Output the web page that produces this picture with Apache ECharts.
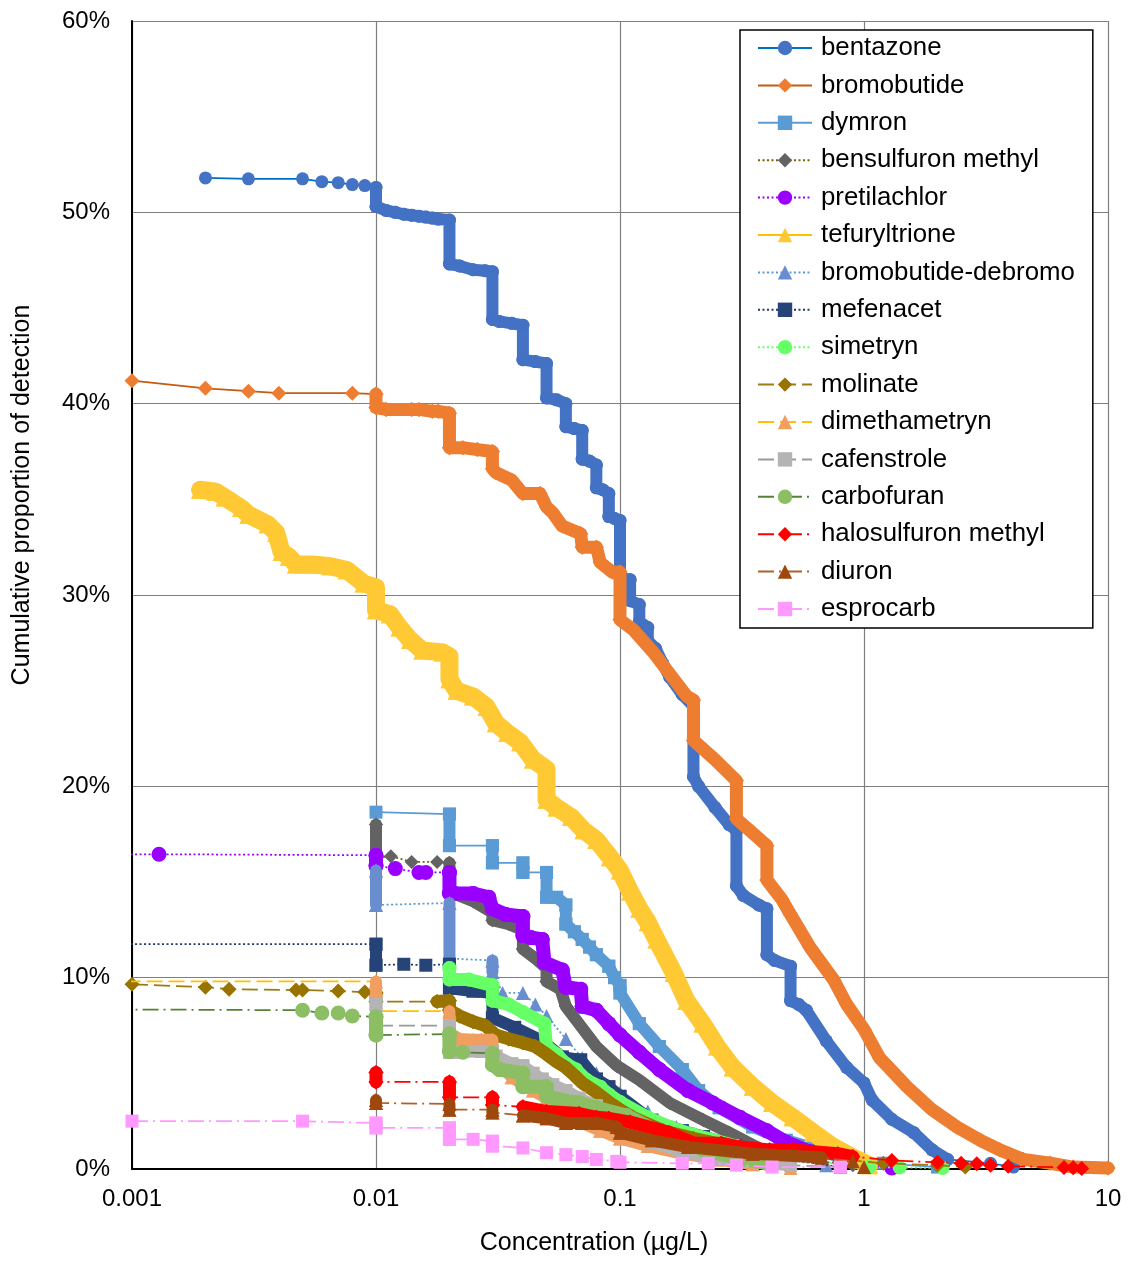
<!DOCTYPE html>
<html><head><meta charset="utf-8">
<script src="https://cdn.jsdelivr.net/npm/echarts@6/dist/echarts.min.js"></script>
<style>html,body{margin:0;padding:0;background:#fff;}#c{width:1130px;height:1261px;}</style>
</head><body><div id="c"></div>
<script>
// ---------------- DATA (concentration µg/L, cumulative proportion %) ----------------
const seriesNames = ['bentazone','bromobutide','dymron','bensulfuron methyl','pretilachlor','tefuryltrione','bromobutide-debromo','mefenacet','simetryn','molinate','dimethametryn','cafenstrole','carbofuran','halosulfuron methyl','diuron','esprocarb'];
const xTickLabels = ['0.001','0.01','0.1','1','10'];
const yTickLabels = ['0%','10%','20%','30%','40%','50%','60%'];

const bentazone = [[0.002,51.8],[0.003,51.75],[0.005,51.75],[0.006,51.6],[0.007,51.55],[0.008,51.45],[0.009,51.4],
 [0.01,51.3],[0.01,50.3],[0.011,50.1],[0.012,50.0],[0.013,49.9],[0.014,49.85],[0.015,49.8],[0.016,49.75],[0.017,49.7],[0.018,49.65],[0.02,49.6],[0.02,47.3],[0.022,47.2],[0.025,47.0],[0.028,46.95],[0.03,46.9],[0.03,44.4],[0.032,44.3],[0.036,44.2],[0.04,44.1],[0.04,42.3],[0.045,42.2],[0.05,42.1],[0.05,40.3],[0.055,40.2],[0.06,40.0],[0.06,38.8],[0.065,38.7],[0.07,38.6],[0.07,37.1],[0.075,37.0],[0.08,36.8],[0.08,35.6],[0.085,35.5],[0.09,35.3],[0.09,34.1],[0.095,34.0],[0.1,33.9],[0.1,30.9],[0.11,30.8],[0.11,29.7],[0.12,29.5],[0.12,28.6],[0.13,28.3],[0.13,27.6],[0.14,27.2],[0.15,26.4],[0.16,25.7],[0.18,24.8],[0.2,24.2],[0.2,20.5],[0.21,20.0],[0.245,18.9],[0.28,18.0],[0.3,17.7],[0.3,14.8],[0.32,14.3],[0.37,13.8],[0.4,13.6],[0.4,11.2],[0.43,10.9],[0.5,10.6],[0.5,8.8],[0.54,8.6],[0.58,8.3],[0.7,6.7],[0.85,5.3],[1.0,4.5],[1.08,3.6],[1.3,2.6],[1.6,1.9],[1.9,1.0],[2.2,0.5],[3.3,0.3],[4.1,0.1]];
const bromobutide = [[0.001,41.2],[0.002,40.8],[0.003,40.65],[0.004,40.55],[0.008,40.55],[0.01,40.5],[0.01,39.8],[0.011,39.7],[0.014,39.7],[0.015,39.7],[0.017,39.6],[0.018,39.6],[0.02,39.5],[0.02,37.7],[0.0227,37.7],[0.026,37.6],[0.03,37.5],[0.03,36.6],[0.031,36.4],[0.036,36.0],[0.04,35.3],[0.047,35.3],[0.05,34.6],[0.053,34.3],[0.058,33.6],[0.069,33.2],[0.07,32.5],[0.08,32.5],[0.083,31.7],[0.093,31.2],[0.1,31.2],[0.1,28.7],[0.113,28.2],[0.137,27.0],[0.155,26.1],[0.188,24.7],[0.2,24.5],[0.2,22.4],[0.245,21.4],[0.3,20.3],[0.3,18.3],[0.34,17.7],[0.4,16.9],[0.4,15.1],[0.46,14.1],[0.5,13.3],[0.6,11.6],[0.75,9.9],[0.85,8.6],[1.0,7.3],[1.16,5.8],[1.5,4.3],[1.9,3.1],[2.4,2.2],[3.0,1.5],[3.6,1.0],[4.5,0.5],[5.8,0.3],[7.2,0.1],[10,0.05]];
const dymron = [[0.01,18.65],[0.02,18.55],[0.02,16.9],[0.03,16.9],[0.03,16.0],[0.04,16.0],[0.04,15.5],[0.05,15.5],[0.05,14.2],[0.055,14.2],[0.06,13.8],[0.06,12.8],[0.065,12.4],[0.07,12.0],[0.075,11.6],[0.08,11.2],[0.09,10.6],[0.095,10.0],[0.1,9.6],[0.1,9.2],[0.12,7.6],[0.145,6.4],[0.18,5.2],[0.21,4.1],[0.255,3.2],[0.35,2.2],[0.48,1.5],[0.62,1.1],[0.8,0.6],[1.2,0.3],[2.0,0.1]];
const bensulfuronMethyl = [[0.01,18.0],[0.01,16.25],[0.0115,16.35],[0.014,16.05],[0.0178,16.05],[0.02,16.0],[0.02,14.5],[0.025,14.0],[0.03,13.4],[0.03,13.0],[0.035,12.8],[0.04,12.5],[0.04,11.5],[0.045,11.0],[0.05,10.5],[0.05,9.8],[0.057,9.4],[0.06,8.5],[0.066,7.8],[0.08,6.4],[0.097,5.4],[0.12,4.65],[0.16,3.45],[0.22,2.55],[0.28,1.9],[0.37,1.1],[0.5,0.6],[0.9,0.2]];
const pretilachlor = [[0.0005,16.45],[0.00129,16.45],[0.01,16.4],[0.01,15.85],[0.012,15.7],[0.015,15.5],[0.016,15.5],[0.02,15.5],[0.02,14.4],[0.021,14.4],[0.025,14.4],[0.029,14.2],[0.03,13.6],[0.034,13.3],[0.04,13.2],[0.04,12.2],[0.043,12.1],[0.048,12.0],[0.049,10.8],[0.058,10.4],[0.06,9.5],[0.069,9.4],[0.07,8.5],[0.08,8.3],[0.09,7.6],[0.1,7.0],[0.12,6.1],[0.145,5.2],[0.19,4.1],[0.24,3.45],[0.31,2.7],[0.4,2.0],[0.48,1.4],[0.6,0.9],[0.8,0.4],[1.3,0.05]];
const tefuryltrione = [[0.0019,35.5],[0.0022,35.4],[0.0024,35.1],[0.0028,34.55],[0.003,34.2],[0.0036,33.7],[0.0039,33.25],[0.0041,32.25],[0.0044,32.0],[0.0047,31.6],[0.0055,31.6],[0.0065,31.5],[0.0076,31.3],[0.0089,30.6],[0.01,30.4],[0.01,29.2],[0.0114,29.0],[0.0125,28.3],[0.0138,27.65],[0.0155,27.1],[0.0188,27.0],[0.02,26.8],[0.02,25.6],[0.0214,25.0],[0.025,24.7],[0.0284,24.15],[0.031,23.3],[0.0345,22.8],[0.039,22.3],[0.044,21.4],[0.05,20.9],[0.05,19.3],[0.055,18.9],[0.063,18.4],[0.071,17.7],[0.08,17.2],[0.091,16.3],[0.1,15.6],[0.11,14.5],[0.12,13.6],[0.13,12.9],[0.141,12.0],[0.166,10.25],[0.187,8.8],[0.218,7.6],[0.25,6.4],[0.29,5.3],[0.35,4.3],[0.42,3.45],[0.51,2.7],[0.62,1.9],[0.75,1.15],[0.9,0.6],[1.05,0.2]];
const bromobutideDebromo = [[0.01,15.6],[0.01,13.8],[0.02,13.9],[0.02,11.0],[0.03,10.9],[0.03,10.3],[0.033,9.2],[0.04,9.2],[0.045,8.6],[0.05,8.0],[0.06,6.8],[0.07,5.8],[0.08,5.0],[0.1,4.0],[0.13,3.0],[0.17,2.2],[0.25,1.3],[0.4,0.6],[0.7,0.2]];
const mefenacet = [[0.0005,11.75],[0.01,11.75],[0.01,10.65],[0.013,10.7],[0.016,10.65],[0.02,10.7],[0.02,9.45],[0.025,9.3],[0.03,9.2],[0.03,7.9],[0.037,7.4],[0.048,6.7],[0.058,5.85],[0.069,5.7],[0.08,4.7],[0.09,4.3],[0.1,3.8],[0.135,2.55],[0.18,2.0],[0.22,1.7],[0.3,1.2],[0.4,0.7],[0.8,0.1]];
const simetryn = [[0.02,10.5],[0.02,9.9],[0.024,9.9],[0.03,9.6],[0.03,8.8],[0.035,8.6],[0.04,8.2],[0.049,7.6],[0.05,6.4],[0.055,6.0],[0.06,5.5],[0.066,5.2],[0.073,4.65],[0.083,4.3],[0.09,3.9],[0.1,3.5],[0.13,2.7],[0.16,2.2],[0.2,1.8],[0.3,1.2],[0.5,0.6],[0.8,0.25],[1.05,0.1],[1.4,0.08],[2.1,0.05]];
const molinate = [[0.001,9.65],[0.002,9.5],[0.0025,9.4],[0.0047,9.35],[0.005,9.35],[0.007,9.3],[0.009,9.25],[0.01,9.2],[0.01,8.75],[0.0178,8.75],[0.02,8.8],[0.02,8.3],[0.022,8.0],[0.025,7.7],[0.028,7.5],[0.031,7.0],[0.035,6.8],[0.04,6.6],[0.045,6.4],[0.05,6.0],[0.055,5.6],[0.06,5.3],[0.065,4.9],[0.07,4.5],[0.08,4.0],[0.09,3.5],[0.1,3.1],[0.113,2.7],[0.15,2.0],[0.2,1.6],[0.3,1.1],[0.5,0.7],[0.8,0.5],[1.2,0.3],[2.0,0.2],[2.6,0.1]];
const dimethametryn = [[0.0005,9.8],[0.01,9.8],[0.01,8.25],[0.02,8.25],[0.02,7.1],[0.022,6.8],[0.025,6.75],[0.027,6.75],[0.03,6.75],[0.03,6.1],[0.033,5.3],[0.036,4.8],[0.044,4.1],[0.05,3.7],[0.06,2.9],[0.07,2.4],[0.083,2.0],[0.1,1.6],[0.13,1.2],[0.18,0.8],[0.25,0.5],[0.35,0.25],[0.5,0.05]];
const cafenstrole = [[0.01,8.6],[0.01,7.5],[0.02,7.5],[0.02,6.1],[0.021,6.1],[0.027,6.15],[0.03,6.1],[0.031,5.9],[0.036,5.5],[0.04,5.4],[0.044,5.0],[0.048,4.7],[0.053,4.4],[0.06,4.1],[0.068,3.7],[0.08,3.3],[0.097,2.7],[0.11,2.3],[0.135,1.4],[0.18,0.9],[0.26,0.5],[0.5,0.2],[0.8,0.1]];
const carbofuran = [[0.0005,8.35],[0.005,8.3],[0.006,8.15],[0.007,8.15],[0.008,8.0],[0.01,7.95],[0.01,7.0],[0.02,7.05],[0.02,6.15],[0.0227,6.1],[0.03,6.05],[0.03,5.45],[0.032,5.2],[0.04,5.0],[0.04,4.3],[0.05,4.3],[0.05,3.8],[0.057,3.6],[0.068,3.45],[0.08,3.2],[0.106,2.8],[0.15,1.8],[0.22,1.0],[0.3,0.6],[0.4,0.3]];
const halosulfuronMethyl = [[0.01,5.05],[0.01,4.55],[0.02,4.55],[0.02,3.75],[0.03,3.75],[0.03,3.35],[0.04,3.25],[0.05,3.0],[0.068,2.9],[0.08,2.7],[0.09,2.65],[0.11,2.45],[0.16,1.9],[0.2,1.35],[0.26,1.35],[0.31,1.15],[0.41,1.0],[0.51,1.0],[0.62,0.9],[0.78,0.8],[0.9,0.65],[1.3,0.45],[2.0,0.35],[2.5,0.3],[2.9,0.28],[3.3,0.2],[3.9,0.15],[6.6,0.08],[7.2,0.06],[7.8,0.03]];
const diuron = [[0.01,3.6],[0.01,3.45],[0.02,3.4],[0.02,3.1],[0.03,3.1],[0.03,2.95],[0.04,2.8],[0.05,2.65],[0.06,2.4],[0.07,2.4],[0.08,2.4],[0.097,2.2],[0.1,1.9],[0.135,1.5],[0.19,1.15],[0.35,0.8],[0.67,0.6],[0.9,0.4],[1.0,0.1]];
const esprocarb = [[0.001,2.5],[0.005,2.5],[0.01,2.4],[0.01,2.15],[0.02,2.15],[0.02,1.55],[0.025,1.55],[0.03,1.45],[0.03,1.2],[0.04,1.1],[0.05,0.85],[0.06,0.75],[0.07,0.65],[0.08,0.5],[0.097,0.4],[0.1,0.35],[0.18,0.3],[0.23,0.3],[0.3,0.2],[0.42,0.1],[0.8,0.1]];

const seriesData = [bentazone,bromobutide,dymron,bensulfuronMethyl,pretilachlor,tefuryltrione,bromobutideDebromo,mefenacet,simetryn,molinate,dimethametryn,cafenstrole,carbofuran,halosulfuronMethyl,diuron,esprocarb];

// ---------------- STYLE ----------------
// bands: concentration ranges where detections are so dense that the markers merge
const DOT=[2,2.5], DASH=[16,6], DASHDOT=[16,5,2,5];
const styles = [
 {line:'#0070C0',mark:'#4472C4',sym:'circle',size:13,type:'solid',w:1.75,bw:12,bands:[[0.01,2.2]]},
 {line:'#C55A11',mark:'#ED7D31',sym:'diamond',size:15,type:'solid',w:1.75,bw:13,bands:[[0.01,10]]},
 {line:'#5B9BD5',mark:'#5B9BD5',sym:'rect',size:13,type:'solid',w:1.75,bw:12,bands:[[0.02,0.02],[0.03,0.03],[0.04,0.04],[0.05,0.8]]},
 {line:'#7F6000',mark:'#636363',sym:'diamond',size:14,type:DOT,w:1.75,bw:12,bands:[[0.01,0.01],[0.02,0.5]]},
 {line:'#9900FF',mark:'#9900FF',sym:'circle',size:15,type:DOT,w:1.75,bw:14,bands:[[0.01,0.01],[0.02,0.6]]},
 {line:'#FFC000',mark:'#FFC935',sym:'triangle',size:18,type:'solid',w:3,bw:18,bands:[[0.001,1.1]]},
 {line:'#5B9BD5',mark:'#698ED0',sym:'triangle',size:14,type:DOT,w:1.75,bw:12,bands:[[0.01,0.01],[0.02,0.02],[0.03,0.03]]},
 {line:'#203864',mark:'#264478',sym:'rect',size:13,type:DOT,w:1.75,bw:12,bands:[[0.01,0.01],[0.02,0.4]]},
 {line:'#66FF66',mark:'#66FF66',sym:'circle',size:14,type:DOT,w:1.75,bw:13,bands:[[0.02,0.5]]},
 {line:'#9C7A14',mark:'#997300',sym:'diamond',size:15,type:DASH,w:1.75,bw:13,bands:[[0.01,0.01],[0.017,0.3]]},
 {line:'#FFC000',mark:'#F19E61',sym:'triangle',size:14,type:DASH,w:1.75,bw:12,bands:[[0.01,0.01],[0.02,0.35]]},
 {line:'#999999',mark:'#B4B4B4',sym:'rect',size:13,type:DASH,w:1.75,bw:12,bands:[[0.01,0.01],[0.02,0.5]]},
 {line:'#548235',mark:'#8CBF64',sym:'circle',size:15,type:DASHDOT,w:1.75,bw:14,bands:[[0.01,0.01],[0.02,0.02],[0.03,0.4]]},
 {line:'#FF0000',mark:'#FF0000',sym:'diamond',size:15,type:DASHDOT,w:1.75,bw:13,bands:[[0.01,0.01],[0.02,0.02],[0.03,0.03],[0.04,0.9]]},
 {line:'#B0602A',mark:'#9E480E',sym:'triangle',size:14,type:DASHDOT,w:1.75,bw:12,bands:[[0.01,0.01],[0.02,0.02],[0.03,0.03],[0.04,0.7]]},
 {line:'#FF99FF',mark:'#FF99FF',sym:'rect',size:13,type:DASHDOT,w:1.75,bw:12,bands:[[0.01,0.01],[0.02,0.02],[0.03,0.03]]}
];
const FONT = "'Liberation Sans', Arial, sans-serif";

const series = [];
seriesNames.forEach((name, i) => {
  const s = styles[i];
  const data = seriesData[i];
  const zb = 2 + 3 * i;
  series.push({
    name: name, type: 'line', data: data, z: zb,
    symbol: s.sym, symbolSize: s.size, showSymbol: true,
    itemStyle: {color: s.mark, borderWidth: 0},
    lineStyle: {color: s.line, width: s.w, type: s.type}
  });
  const inBand = [];
  s.bands.forEach((b, k) => {
    const seg = data.filter(p => p[0] >= b[0] && p[0] <= b[1]);
    seg.forEach(p => inBand.push(p));
    series.push({
      name: name + ' band' + k, type: 'line', data: seg,
      symbol: 'none', silent: true, z: zb + 1, legendHoverLink: false,
      lineStyle: {color: s.mark, width: s.bw, join: 'round', cap: 'round'}
    });
  });
  series.push({
    name: name + ' marks', type: 'scatter', data: inBand, z: zb + 2, silent: true,
    symbol: s.sym, symbolSize: s.size, itemStyle: {color: s.mark, borderWidth: 0}
  });
});

const chart = echarts.init(document.getElementById('c'), null, {renderer: 'canvas'});
chart.setOption({
  animation: false,
  backgroundColor: '#fff',
  grid: {left: 132, right: 22, top: 21, bottom: 92, containLabel: false},
  xAxis: {
    type: 'log', logBase: 10, min: 0.001, max: 10,
    axisLine: {show: true, onZero: false, lineStyle: {color: '#000', width: 2}},
    axisTick: {show: false},
    splitLine: {show: true, lineStyle: {color: '#7f7f7f', width: 1.2}},
    minorSplitLine: {show: false},
    axisLabel: {fontSize: 24, fontFamily: FONT, color: '#000', margin: 18,
      formatter: v => xTickLabels[Math.round(Math.log10(v)) + 3]}
  },
  yAxis: {
    type: 'value', min: 0, max: 60, interval: 10,
    axisLine: {show: true, lineStyle: {color: '#000', width: 2}},
    axisTick: {show: false},
    splitLine: {show: true, lineStyle: {color: '#7f7f7f', width: 1.2}},
    axisLabel: {fontSize: 24, fontFamily: FONT, color: '#000', margin: 22,
      formatter: v => yTickLabels[Math.round(v / 10)]}
  },
  legend: {
    orient: 'vertical', left: 740, top: 30, z: 80,
    data: seriesNames, selectedMode: false,
    padding: [5, 18, 6, 17], itemWidth: 54, itemHeight: 18, itemGap: 11.4,
    backgroundColor: '#fff', borderColor: '#000', borderWidth: 1.5,
    textStyle: {fontSize: 25.8, fontFamily: FONT, color: '#000', lineHeight: 26, padding: [0, 0, 0, 4]}
  },
  graphic: [
    {type: 'text', x: 22, y: 495, rotation: Math.PI / 2, z: 90,
     style: {text: 'Cumulative proportion of detection', font: '25px ' + FONT, fill: '#000', align: 'center', verticalAlign: 'middle'}},
    {type: 'text', x: 594, y: 1243, z: 90,
     style: {text: 'Concentration (µg/L)', font: '25px ' + FONT, fill: '#000', align: 'center', verticalAlign: 'middle'}}
  ],
  series: series
});
</script></body></html>
